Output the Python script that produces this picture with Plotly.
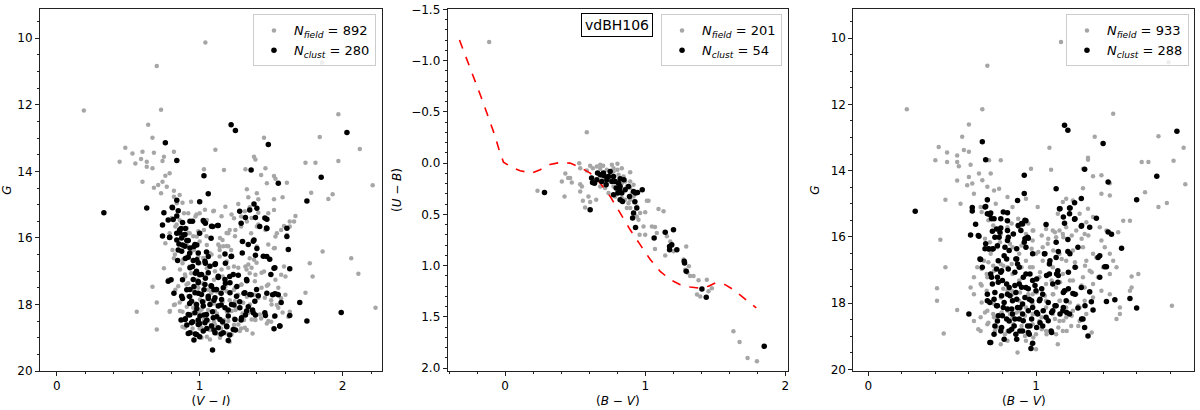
import plotly.graph_objects as go

# ---------------- Panel 1: G vs (V-I) ----------------
vi_field = [1.04,0.70,0.19,0.73,0.64,0.67,1.855,1.97,1.84,2.12,2.21,2.23,1.97,1.81,1.74,1.78,1.93,1.90,2.06,2.11,
            1.86,1.77,1.79,1.74,0.56,0.70,0.70,0.67,0.44,0.48,0.53,0.55,0.59,0.60,0.63,0.60,0.68,0.63,0.74,0.75,
            0.82,0.67,0.76,0.79,0.74,0.71,0.68,0.73,0.77,0.82,0.82,0.86,0.84,0.88,0.94,1.00,1.11,1.03,1.17,1.32,
            1.45,1.39,1.38,1.46,1.43,1.52,1.53,1.47,1.61,1.40,1.33,1.34,1.41,1.52,1.58,1.18,1.10,1.27,1.35,1.41,
            1.48,1.52,1.67,1.66,1.63,1.59,1.63,1.57,1.54,1.61,1.53,1.46,1.40,1.33,1.29,1.25,1.21,1.19,1.14,1.20,
            1.16,1.36,1.40,1.52,1.46,1.38,1.35,1.32,1.35,1.39,1.45,1.53,1.59,1.57,1.60,1.47,1.54,1.57,1.50,1.54,
            1.60,1.63,1.62,1.58,1.52,1.50,1.47,1.43,1.39,1.37,1.33,1.29,1.19,1.12,1.07,1.05,0.99,0.95,0.88,0.90,
            0.82,0.79,0.86,0.83,0.78,0.75,0.82,0.81,0.76,0.79,0.83,0.86,0.89,0.92,0.97,1.00,1.05,1.10,0.91,0.93,
            0.98,1.03,1.00,1.05,1.07,0.96,0.91,0.88,0.93,1.00,1.05,1.11,1.14,1.19,1.24,1.21,1.16,1.10,1.04,0.98,
            0.92,0.90,0.96,1.00,1.06,1.12,1.18,1.24,1.29,1.27,1.33,1.38,1.21,1.16,1.10,1.03,0.97,0.91,0.88,0.95,
            1.00,1.06,1.12,1.19,1.25,1.30,1.35,1.24,1.17,1.10,1.03,0.97,1.00,1.15,1.24,1.21,1.31,0.96,1.29,1.24,
            1.14,1.02,1.08,1.13,1.22,0.94,0.99,1.08,1.16,1.26,
            0.804,0.839,0.885,0.92,0.955,0.99,1.048,1.13,1.165,1.2,1.142,1.188,1.247,1.293,1.34,1.363,1.328,1.398,1.433,1.386,
            1.433,1.48,1.503,1.55,1.48,1.421,1.363,1.316,1.27,1.223,1.142,1.072,1.013,0.897,0.862,0.827,0.792,0.85,0.897,0.862,
            0.827,0.885,0.908,0.943,1.025,1.083,1.107,1.153,1.2,1.27,1.293,1.247,1.188,1.142,1.083,1.037,0.99,0.908,0.92,1.002,
            1.083,1.153,1.247,1.305,1.351,1.41,1.223,1.107,1.013,0.955,1.06,1.165,1.281,1.013,1.107,1.2,1.34,1.386,1.456,1.55,
            1.526,1.48,1.41,1.363,1.316,1.223,1.153,1.095,1.037,0.978]
g1_field = [10.13,10.83,12.17,12.15,12.60,12.99,10.73,12.28,12.97,13.33,14.42,18.10,13.69,13.74,13.74,14.64,14.69,14.83,16.61,17.08,
            16.41,16.76,17.16,17.65,18.22,18.75,17.94,17.47,13.71,13.29,13.46,13.76,13.63,13.41,13.86,14.31,13.44,13.71,13.69,13.56,
            13.41,13.91,14.13,14.06,14.31,14.41,14.49,14.66,14.46,14.58,14.76,14.71,14.96,14.94,14.91,14.91,13.35,13.94,13.96,13.94,
            12.99,13.64,13.56,13.91,14.11,14.14,14.22,14.36,14.34,14.66,14.54,14.78,14.84,14.84,14.78,15.06,15.18,14.98,15.08,15.24,
            15.26,15.16,15.34,15.51,15.51,15.64,15.66,15.76,15.86,15.91,15.96,15.76,15.66,15.51,15.66,15.76,15.76,16.24,16.26,15.86,
            16.06,15.86,16.26,16.31,16.56,16.66,16.61,16.86,17.06,17.11,17.01,17.26,16.86,17.11,17.16,17.44,17.66,17.81,17.87,18.02,
            17.71,18.22,18.37,18.24,18.37,18.52,18.57,18.42,18.47,18.87,18.77,18.72,18.87,18.87,18.77,18.97,18.92,18.72,18.67,18.47,
            18.02,18.22,17.94,17.56,17.26,16.91,16.61,16.36,16.16,15.86,15.66,15.46,15.26,15.26,15.36,15.26,15.46,15.66,15.71,15.86,
            15.96,15.76,16.11,16.21,16.46,16.36,16.56,16.76,16.86,16.76,16.91,16.76,16.56,16.71,16.86,17.16,17.16,17.26,17.16,17.26,
            17.36,17.16,17.56,17.66,17.56,17.61,17.46,17.56,17.41,17.71,17.77,17.71,17.87,17.92,17.97,17.92,17.97,18.07,18.22,18.27,
            18.22,18.17,18.27,18.22,18.17,18.27,18.22,18.42,18.47,18.52,18.47,18.52,18.72,18.72,18.62,19.12,18.47,18.87,15.36,15.41,
            16.36,17.36,18.62,18.02,16.36,17.06,16.56,17.66,18.57,18.12,
            15.4,15.6,15.55,15.85,15.95,15.8,15.95,16.2,16.25,16.25,16.0,15.85,15.95,16.1,16.8,16.9,16.95,16.75,17.05,17.3,
            17.5,17.4,18.0,18.1,18.5,18.3,18.45,18.7,18.6,18.9,19.0,19.05,19.0,18.7,18.2,18.0,18.2,17.45,17.1,16.95,
            16.5,16.65,16.2,16.4,16.6,16.5,17.0,16.95,16.9,16.9,17.4,17.5,17.6,17.65,17.6,17.55,17.5,17.4,17.75,17.85,
            17.9,18.0,17.9,17.95,18.0,17.8,18.2,18.2,18.15,18.1,18.5,18.55,18.8,18.7,18.6,18.5,18.25,18.45,17.8,17.5,
            16.3,16.2,15.6,15.4,15.2,15.3,15.35,15.2,15.15,15.3]
vi_clust = [0.33,0.63,0.76,0.84,1.22,1.25,1.48,1.36,1.03,1.06,1.00,0.84,1.55,1.85,2.03,1.75,1.99,1.75,1.70,1.63,
            1.56,1.52,1.09,0.96,0.92,1.00,1.40,1.38,1.35,1.32,1.28,1.39,1.29,1.42,1.47,1.47,1.61,1.61,1.62,1.63,
            1.52,1.47,1.49,1.38,1.40,1.39,1.30,1.22,1.18,1.11,1.06,1.09,1.13,1.03,0.95,0.88,0.84,0.81,0.75,0.78,
            0.74,0.74,0.79,0.84,0.86,0.89,0.84,0.88,0.85,0.91,0.96,0.98,0.93,0.90,0.98,1.00,1.08,1.04,0.95,0.97,
            1.00,1.04,0.99,0.96,0.91,0.88,0.93,0.99,1.03,1.08,1.13,1.18,1.21,1.27,1.26,1.33,1.31,1.36,1.41,1.28,
            1.24,1.20,1.15,1.10,1.06,1.02,0.98,0.93,0.88,0.90,0.93,0.91,0.95,0.99,1.03,1.05,1.09,1.12,1.16,1.19,
            1.25,1.10,1.05,1.00,1.29,1.32,1.37,1.39,1.34,1.46,1.47,1.51,1.57,1.55,1.21,0.97,1.15,0.87,1.10,1.15,
            0.82,0.80,
            0.808,0.85,0.815,0.79,0.87,0.90,0.862,0.897,0.932,1.025,1.04,1.083,1.125,0.874,0.92,0.855,0.897,0.932,0.967,0.99,
            1.048,0.874,0.846,0.92,0.955,0.99,1.037,1.072,1.107,1.177,1.223,1.298,0.932,0.978,1.013,1.06,1.13,1.177,1.235,0.955,
            0.99,1.037,1.083,1.118,1.165,1.212,0.932,0.967,1.013,1.06,1.107,1.153,1.212,1.258,1.316,1.351,1.386,0.943,0.978,1.025,
            1.072,1.13,1.177,1.223,1.281,1.328,1.375,0.92,0.967,1.002,1.048,1.095,1.142,1.2,1.247,1.293,0.897,0.943,0.99,1.037,
            1.083,1.13,1.188,1.235,0.932,0.978,1.025,1.107,1.165,1.2,1.456,1.468,1.445,1.526,1.498,1.526,1.456,1.526,1.561,1.34,
            1.375,1.328,1.398,0.78,0.874]
g1_clust = [15.24,15.10,13.14,13.67,12.60,12.77,13.19,13.96,14.13,14.67,14.91,14.87,14.36,14.18,12.83,14.89,18.24,18.50,17.94,18.33,
            18.65,18.73,19.37,19.07,18.87,18.97,15.11,14.98,15.16,15.39,15.20,15.39,15.56,15.66,15.72,15.44,15.71,15.96,16.35,16.93,
            16.91,16.56,16.64,16.06,16.32,16.52,16.11,16.56,16.76,16.78,16.56,15.66,15.63,15.51,15.50,15.54,15.34,15.09,15.24,15.46,
            15.61,15.94,15.99,15.86,15.76,15.91,16.06,16.21,16.36,16.08,16.26,16.21,16.46,16.62,16.66,15.86,16.01,16.76,16.86,17.06,
            17.11,17.21,17.31,17.46,17.56,17.26,17.76,17.66,17.56,17.44,17.19,17.36,17.16,17.12,17.46,17.29,17.66,17.71,17.74,17.92,
            18.02,18.17,18.02,17.87,17.82,17.92,18.12,17.97,17.82,18.43,18.32,18.62,18.52,18.47,18.32,18.47,18.22,18.37,18.52,18.67,
            18.77,18.77,18.72,18.57,18.47,18.32,18.17,18.32,18.07,18.33,17.66,17.71,17.94,17.71,18.92,18.89,18.89,18.47,17.56,17.66,
            17.66,17.26,
            15.08,15.18,15.45,15.98,15.72,15.72,15.85,15.9,15.5,15.48,15.56,15.65,15.63,16.0,16.08,16.18,16.25,16.3,16.2,16.45,
            16.42,16.4,16.68,16.58,16.68,16.75,16.7,16.85,16.8,16.48,16.55,16.45,16.9,17.0,17.1,17.05,17.15,17.25,17.1,17.25,
            17.35,17.4,17.45,17.55,17.5,17.35,17.55,17.65,17.7,17.75,17.8,17.85,17.65,17.75,17.65,17.7,17.9,17.9,18.0,18.05,
            18.0,18.05,18.1,18.0,18.1,18.2,18.25,18.3,18.25,18.35,18.3,18.4,18.45,18.35,18.45,18.4,18.45,18.55,18.6,18.55,
            18.65,18.7,18.65,18.75,18.85,18.9,18.8,18.85,18.85,19.08,15.4,15.7,16.55,16.9,17.1,17.68,18.25,18.35,18.65,16.2,
            16.1,17.25,17.55,17.3,17.75]

# ---------------- Panel 2: (U-B) vs (B-V) ----------------
bv2_field = [-0.114,0.583,0.231,0.424,0.405,0.43,0.45,0.476,0.464,0.529,0.536,0.536,0.548,0.536,0.555,0.571,0.595,0.607,0.65,0.583,
             0.607,0.626,0.655,0.679,0.679,0.70,0.69,0.726,0.75,0.774,0.802,0.802,0.81,0.821,0.845,0.857,0.893,0.869,0.893,0.905,
             0.917,0.929,0.94,0.917,0.94,0.952,0.964,1.0,1.012,1.024,0.988,1.0,0.96,1.048,1.07,1.083,1.095,1.131,1.07,1.143,
             1.155,1.179,1.202,1.19,1.293,1.274,1.286,1.302,1.312,1.321,1.345,1.381,1.44,1.476,1.452,1.37,1.393,1.63,1.674,1.731,
             1.798,0.726,0.75,0.774,0.798,0.821,0.833,0.857,0.881,0.893,0.786,0.81,0.833,0.893,0.714,0.738,0.893,0.869,0.917,0.774,
             0.833,0.762,0.679,0.702]
ub_field = [-1.18,-0.30,0.27,0.325,0.18,0.10,0.146,0.19,0.146,0.0,0.05,0.205,0.227,0.276,0.367,0.432,0.325,0.38,0.357,0.071,
            0.026,0.049,0.032,0.055,0.016,0.026,0.13,0.065,0.097,0.081,0.006,0.065,0.114,0.162,0.13,0.179,0.088,0.227,0.243,0.292,
            0.325,0.373,0.422,0.487,0.52,0.552,0.487,0.48,0.367,0.367,0.617,0.698,0.698,0.617,0.623,0.682,0.448,0.47,0.838,0.90,
            0.714,0.763,0.86,0.805,0.812,0.94,1.04,1.07,1.006,1.10,1.10,1.143,1.136,1.22,1.25,1.28,1.30,1.64,1.743,1.90,
            1.932,0.195,0.162,0.227,0.26,0.292,0.34,0.357,0.39,0.357,0.325,0.211,0.195,0.179,0.243,0.292,0.438,0.438,0.211,0.049,
            0.049,0.016,0.227,0.179]
bv2_clust = [0.281,0.607,0.617,0.624,0.638,0.660,0.679,0.69,0.707,0.721,0.738,0.75,0.762,0.774,0.793,0.805,0.817,0.821,0.833,0.838,
             0.857,0.888,0.917,0.931,0.945,0.979,0.926,0.94,0.917,0.91,0.931,1.064,1.143,1.202,1.174,1.19,1.174,1.226,1.279,1.281,
             1.293,1.405,1.436,1.85,0.786,0.81,0.726,0.702,0.655,0.821,0.774,0.881,0.821,0.848]
ub_clust = [0.286,0.455,0.146,0.188,0.195,0.097,0.114,0.179,0.123,0.211,0.13,0.081,0.179,0.13,0.243,0.292,0.26,0.357,0.292,0.373,
            0.26,0.325,0.276,0.292,0.286,0.26,0.377,0.438,0.487,0.536,0.627,0.73,0.675,0.649,0.812,0.795,0.844,0.844,0.958,0.974,
            1.055,1.227,1.308,1.786,0.179,0.195,0.162,0.097,0.162,0.227,0.308,0.227,0.153,0.162]
zams_bv = [-0.326,-0.31,-0.274,-0.238,-0.198,-0.155,-0.112,-0.071,-0.04,-0.012,0.036,0.107,0.19,0.25,0.32,0.393,0.464,0.536,
           0.607,0.679,0.75,0.821,0.893,0.964,1.036,1.107,1.179,1.25,1.321,1.393,1.452,1.50,1.571,1.63,1.702,1.793]
zams_ub = [-1.20,-1.14,-1.006,-0.88,-0.74,-0.584,-0.42,-0.26,-0.114,-0.01,0.032,0.075,0.097,0.065,0.013,-0.006,0.0,0.042,
           0.097,0.195,0.325,0.487,0.65,0.795,0.94,1.055,1.136,1.185,1.208,1.221,1.20,1.169,1.185,1.234,1.315,1.412]

# ---------------- Panel 3: G vs (B-V) ----------------
bv3_field = [1.149,0.71,0.23,0.68,0.60,0.56,1.79,1.85,1.46,1.73,1.88,1.89,1.82,1.67,1.63,1.65,1.73,1.78,1.81,1.61,
             1.57,1.57,1.56,1.50,1.50,1.48,1.52,1.56,0.45,0.53,0.41,0.41,0.46,0.43,0.46,0.40,0.42,0.47,0.47,0.53,
             0.57,0.53,0.54,0.60,0.61,0.60,0.53,0.59,0.62,0.66,0.68,0.72,0.79,0.73,0.71,0.75,0.78,0.63,0.55,0.67,
             0.71,0.76,0.83,0.86,0.94,1.01,0.97,1.08,1.09,1.35,1.31,1.31,1.28,1.28,1.34,1.39,1.44,1.44,1.39,1.22,
             1.18,1.16,1.13,1.20,1.26,1.31,1.34,1.30,1.38,1.42,1.45,1.49,1.39,1.29,1.24,1.18,1.14,1.10,1.06,1.12,
             1.16,1.07,1.04,1.22,1.28,1.34,1.30,1.36,1.41,1.44,1.46,1.48,1.44,1.40,1.37,1.32,1.28,1.24,1.18,1.14,
             1.10,1.16,1.22,1.29,1.34,1.39,1.44,1.34,1.29,1.24,1.18,1.12,1.06,1.02,0.98,0.94,0.90,0.86,0.83,0.79,
             0.83,0.86,0.90,0.94,0.98,0.98,0.94,1.00,1.04,0.77,0.73,0.69,0.65,0.63,0.61,0.63,0.67,0.71,0.75,0.79,
             0.83,0.86,0.90,0.94,0.98,1.02,1.06,1.10,1.14,1.18,1.22,1.26,1.30,1.26,1.21,1.16,1.12,1.06,1.00,1.00,
             0.89,0.94,0.88,0.83,0.77,0.71,0.67,0.71,0.75,0.79,0.83,0.86,0.90,0.94,0.98,1.02,0.98,0.92,0.86,0.83,
             0.79,0.75,0.90,0.98,1.06,1.10,1.14,1.18,1.13,0.83,0.79,0.67,0.63,0.71,
             0.676,0.716,0.745,0.825,0.855,0.894,0.954,0.984,1.034,1.073,1.113,1.163,1.213,1.272,1.312,0.696,0.725,0.785,0.845,0.914,
             0.974,1.014,1.103,1.153,1.232,1.292,1.332,0.676,0.706,0.716,0.745,0.805,0.855,0.914,0.964,1.024,1.093,1.143,1.202,1.272,
             1.322,0.676,0.706,0.805,0.855,0.904,0.954,1.004,1.053,1.103,1.143,1.202,1.252,0.676,0.696,0.745,0.795,0.845,0.885,0.934,
             0.984,1.034,1.113,1.163,1.213,1.252,0.716,0.755,0.815,0.865,0.914,0.934,0.984,1.034,1.063,1.133,1.183,0.974,0.656,1.332]
g3_field = [10.12,10.83,12.15,12.15,12.61,12.98,10.73,10.51,12.28,12.96,13.31,14.41,13.70,13.74,13.74,14.65,15.10,14.98,18.08,17.12,
            17.20,17.53,17.63,18.13,18.33,18.48,15.51,15.51,18.92,18.21,17.93,17.55,16.92,16.09,14.88,13.69,13.29,13.45,13.74,13.54,
            13.38,13.74,13.87,13.43,13.82,14.19,14.30,14.44,14.39,14.09,14.29,13.69,13.69,14.09,14.49,14.60,14.55,14.70,15.00,15.10,
            14.90,15.00,14.80,15.10,14.85,15.10,13.94,13.31,13.97,12.98,13.61,13.67,13.94,14.53,14.17,14.14,14.38,14.75,14.70,14.90,
            14.85,14.95,15.30,15.30,15.30,15.15,15.40,15.56,15.71,15.81,15.91,15.86,16.11,15.91,15.81,15.71,15.81,15.81,15.76,16.01,
            15.91,16.21,16.31,16.41,16.31,16.51,16.72,16.62,16.31,16.51,16.72,16.92,17.12,16.92,17.22,17.02,17.22,16.92,16.72,16.51,
            16.92,17.12,17.32,17.53,17.42,17.63,17.73,17.83,17.93,17.73,17.63,17.53,17.42,17.22,16.92,16.72,16.51,16.31,16.11,15.91,
            15.71,15.91,15.71,15.91,15.81,16.11,16.31,16.51,16.72,16.31,16.51,16.72,16.92,17.22,17.53,17.73,17.42,17.22,17.02,16.82,
            16.92,17.12,17.32,17.53,17.73,17.93,18.13,18.33,18.54,18.43,18.23,18.13,18.33,18.54,18.69,18.84,18.94,18.84,18.94,19.39,
            19.49,19.14,18.94,18.84,18.74,18.64,18.43,18.23,18.03,17.83,17.63,17.73,17.93,18.13,18.33,18.54,18.64,18.54,18.43,18.23,
            18.33,18.43,18.23,18.03,17.93,17.73,17.93,18.13,19.24,19.14,19.24,18.84,18.54,17.93,
            15.25,15.5,15.66,15.5,15.6,15.45,15.6,15.81,15.96,16.06,15.86,16.01,15.96,16.06,15.96,16.06,16.16,16.16,16.21,16.26,
            16.36,16.46,16.41,16.67,16.77,16.87,17.07,16.97,17.12,16.77,16.87,16.87,16.82,16.92,16.92,17.07,17.32,17.37,17.32,17.47,
            17.68,17.47,17.63,17.57,17.63,17.68,17.73,17.68,17.78,17.73,17.93,17.98,18.08,17.98,18.28,18.33,18.28,18.33,18.28,18.38,
            18.33,18.43,18.48,18.53,18.38,18.69,18.59,18.84,18.94,18.64,18.69,18.99,19.04,18.79,18.94,18.74,18.84,19.24,18.79,18.89]
bv3_clust = [0.28,0.60,0.73,0.81,0.98,0.97,0.68,0.70,0.93,0.93,0.89,0.71,0.70,0.62,0.62,0.64,0.61,0.66,0.67,0.72,
             0.74,0.70,0.74,0.75,0.73,0.71,0.79,0.83,0.83,0.79,0.83,0.78,0.83,0.77,0.81,0.84,0.88,0.89,0.90,0.91,
             0.92,0.94,0.95,0.93,0.94,0.98,1.12,1.17,1.19,1.40,1.29,1.43,1.27,1.72,1.84,1.60,1.60,1.56,1.47,1.42,
             1.34,1.33,1.29,1.31,1.28,1.25,1.27,1.32,1.38,1.41,1.42,1.38,1.37,1.51,1.45,1.43,1.36,1.32,1.27,1.25,
             1.23,1.20,1.17,1.14,1.20,1.23,1.19,1.19,1.12,1.06,1.05,1.08,1.12,1.08,1.13,1.13,1.17,1.22,1.18,1.20,
             1.16,1.12,1.10,1.06,1.09,1.04,1.01,0.98,0.96,0.94,0.98,0.94,0.90,0.88,0.86,0.84,0.80,0.79,0.77,0.73,
             0.74,0.71,0.71,0.75,0.77,0.81,0.83,0.80,0.77,0.84,0.86,0.89,0.90,0.87,0.84,0.88,0.92,0.95,0.96,0.92,
             0.92,1.02,1.04,1.00,0.79,0.75,1.10,0.83,0.68,
             0.696,0.725,0.735,0.805,0.934,0.914,0.894,0.765,0.785,0.755,0.835,0.865,0.716,0.745,0.696,0.815,0.885,0.934,0.954,0.656,
             0.666,0.775,0.825,0.885,0.765,0.795,0.835,0.874,0.924,0.964,1.004,1.063,0.735,0.775,0.825,0.874,0.914,0.954,0.994,1.034,
             0.755,0.795,0.845,0.885,0.934,0.974,1.024,1.073,1.113,1.163,0.725,0.765,0.805,0.855,0.904,0.954,1.004,1.043,1.093,1.143,
             1.183,0.775,0.825,0.874,0.924,0.974,1.024,1.073,0.755,0.795,0.855,0.904,0.954,1.004,0.885,0.725,1.193,1.233,1.163,1.133,
             1.123,1.193,1.233,1.272,1.232,1.163,1.143,1.203,1.053,1.083,1.133,1.202,1.292,1.272,1.093,0.964]
g3_clust = [15.23,18.33,19.19,19.09,19.21,19.37,13.13,13.67,14.14,14.69,14.90,14.88,15.08,15.11,15.22,15.62,15.94,15.98,16.68,16.37,
            16.37,16.21,15.83,15.45,15.28,15.30,15.45,15.27,15.51,15.73,15.81,16.01,16.11,16.27,16.57,16.41,16.67,16.82,16.92,15.81,
            15.61,15.51,16.01,16.16,16.31,16.51,14.55,12.63,12.78,13.18,13.96,14.34,14.84,14.17,12.81,14.88,18.15,17.86,17.90,17.95,
            18.21,17.96,18.74,18.99,18.48,18.15,17.53,17.66,17.22,16.90,16.90,16.57,16.62,16.34,15.92,15.85,15.44,15.71,15.68,16.31,
            15.47,15.30,15.59,15.15,15.13,14.97,16.08,16.44,16.16,15.63,16.51,16.82,16.62,17.12,17.02,17.37,17.63,17.71,17.93,18.33,
            18.23,18.08,18.23,18.43,18.84,18.69,18.33,18.13,17.88,17.53,17.32,17.12,17.42,17.68,17.93,17.53,17.32,17.07,17.22,17.12,
            17.42,17.73,17.93,17.88,18.08,17.98,18.18,18.38,18.54,18.54,18.33,18.13,18.48,18.69,18.84,18.94,18.84,18.69,18.94,18.33,
            18.03,17.93,17.73,17.63,18.84,18.94,17.42,17.73,16.92,
            15.1,15.33,15.45,15.25,15.5,15.6,15.66,15.76,15.86,16.01,16.01,15.91,16.36,16.36,16.36,16.31,16.36,16.06,16.04,15.96,
            16.67,16.72,16.67,16.67,16.97,17.02,16.97,17.07,17.22,17.12,17.27,17.17,17.22,17.37,17.42,17.47,17.52,17.57,17.47,17.57,
            17.68,17.78,17.78,17.88,17.83,17.93,17.88,17.98,18.08,18.13,17.98,18.08,18.13,18.18,18.13,18.23,18.28,18.23,18.28,18.33,
            18.28,18.38,18.48,18.48,18.53,18.48,18.59,18.53,18.69,18.74,18.79,18.84,18.89,18.74,19.09,19.19,17.57,17.73,17.68,17.17,
            17.12,17.07,16.92,15.66,15.45,15.4,15.15,15.13,16.51,16.72,16.44,16.51,18.08,18.48,18.89,18.69]

n_field = [892, 201, 933]
n_clust = [280, 54, 288]
cluster_name = "vdBH106"

FIELD_COLOR = "#a6a6a6"
FONT = "DejaVu Sans"
AX = "#222222"

fig = go.Figure()

panels = [
    (vi_field, g1_field, vi_clust, g1_clust, "x", "y", "legend"),
    (bv2_field, ub_field, bv2_clust, ub_clust, "x2", "y2", "legend2"),
    (bv3_field, g3_field, bv3_clust, g3_clust, "x3", "y3", "legend3"),
]
for i, (xf, yf, xc, yc, xa, ya, lg) in enumerate(panels):
    fig.add_trace(go.Scatter(x=xf, y=yf, mode="markers", xaxis=xa, yaxis=ya, legend=lg,
                             marker=dict(color=FIELD_COLOR, size=4.5, line=dict(width=0)),
                             name="<i>N<sub>field</sub></i> = %d" % n_field[i]))
    if i == 1:
        fig.add_trace(go.Scatter(x=zams_bv, y=zams_ub, mode="lines", xaxis=xa, yaxis=ya,
                                 line=dict(color="red", width=1.6, dash="dash"), showlegend=False))
    fig.add_trace(go.Scatter(x=xc, y=yc, mode="markers", xaxis=xa, yaxis=ya, legend=lg,
                             marker=dict(color="black", size=5.5, line=dict(width=0)),
                             name="<i>N<sub>clust</sub></i> = %d" % n_clust[i]))

def xax(domain, rng, dtick, minor, title):
    return dict(domain=domain, range=rng, dtick=dtick, tick0=0, showgrid=False, zeroline=False,
                showline=True, linecolor=AX, linewidth=1, mirror=True,
                ticks="outside", ticklen=4, tickcolor=AX,
                minor=dict(dtick=minor, ticks="outside", ticklen=2, tickcolor=AX, showgrid=False),
                title=dict(text=title, standoff=4, font=dict(size=12)),
                tickfont=dict(size=12))

def yax(anchor, rng, dtick, minor, title, standoff, fmt=None):
    d = dict(domain=[0, 1], anchor=anchor, range=rng, dtick=dtick, showgrid=False, zeroline=False,
             showline=True, linecolor=AX, linewidth=1, mirror=True,
             ticks="outside", ticklen=4, tickcolor=AX,
             minor=dict(dtick=minor, ticks="outside", ticklen=2, tickcolor=AX, showgrid=False),
             title=dict(text=title, standoff=standoff, font=dict(size=12)),
             tickfont=dict(size=12))
    if fmt:
        d["tickformat"] = fmt
    return d

def leg(xr):
    return dict(x=xr, y=0.985, xanchor="right", yanchor="top", bgcolor="rgba(255,255,255,0.8)",
                bordercolor="#cccccc", borderwidth=1, font=dict(size=13, family=FONT),
                itemwidth=30, tracegroupgap=0)

fig.update_layout(
    width=1200, height=410,
    margin=dict(l=0, r=0, t=9, b=39),
    paper_bgcolor="white", plot_bgcolor="white",
    font=dict(family=FONT, size=12, color="black"),
    xaxis=dict(**xax([0.0333, 0.3183], [-0.117, 2.275], 1, 0.2, "(<i>V</i> − <i>I</i>)"), anchor="y"),
    yaxis=yax("x", [20, 9.12], 2, 0.5, "<i>G</i>", 8),
    xaxis2=dict(**xax([0.3731, 0.6567], [-0.41, 2.02], 1, 0.2, "(<i>B</i> − <i>V</i>)"), anchor="y2"),
    yaxis2=yax("x2", [2.027, -1.503], 0.5, 0.1, "(<i>U</i> − <i>B</i>)", 6, ".1f"),
    xaxis3=dict(**xax([0.7111, 0.9953], [-0.089, 1.944], 1, 0.2, "(<i>B</i> − <i>V</i>)"), anchor="y3"),
    yaxis3=yax("x3", [20.05, 9.12], 2, 0.5, "<i>G</i>", 8),
    legend=leg(0.3133),
    legend2=leg(0.6517),
    legend3=leg(0.9908),
    annotations=[dict(text=cluster_name, xref="paper", yref="paper", x=0.514, y=0.956,
                      xanchor="center", yanchor="middle", showarrow=False,
                      font=dict(size=14, family=FONT, color="black"),
                      bordercolor="black", borderwidth=1, borderpad=3, bgcolor="white")],
)

fig.write_html("out.html", config={"displayModeBar": False},
               post_script="document.body.style.margin='0';document.body.style.overflow='hidden';")
